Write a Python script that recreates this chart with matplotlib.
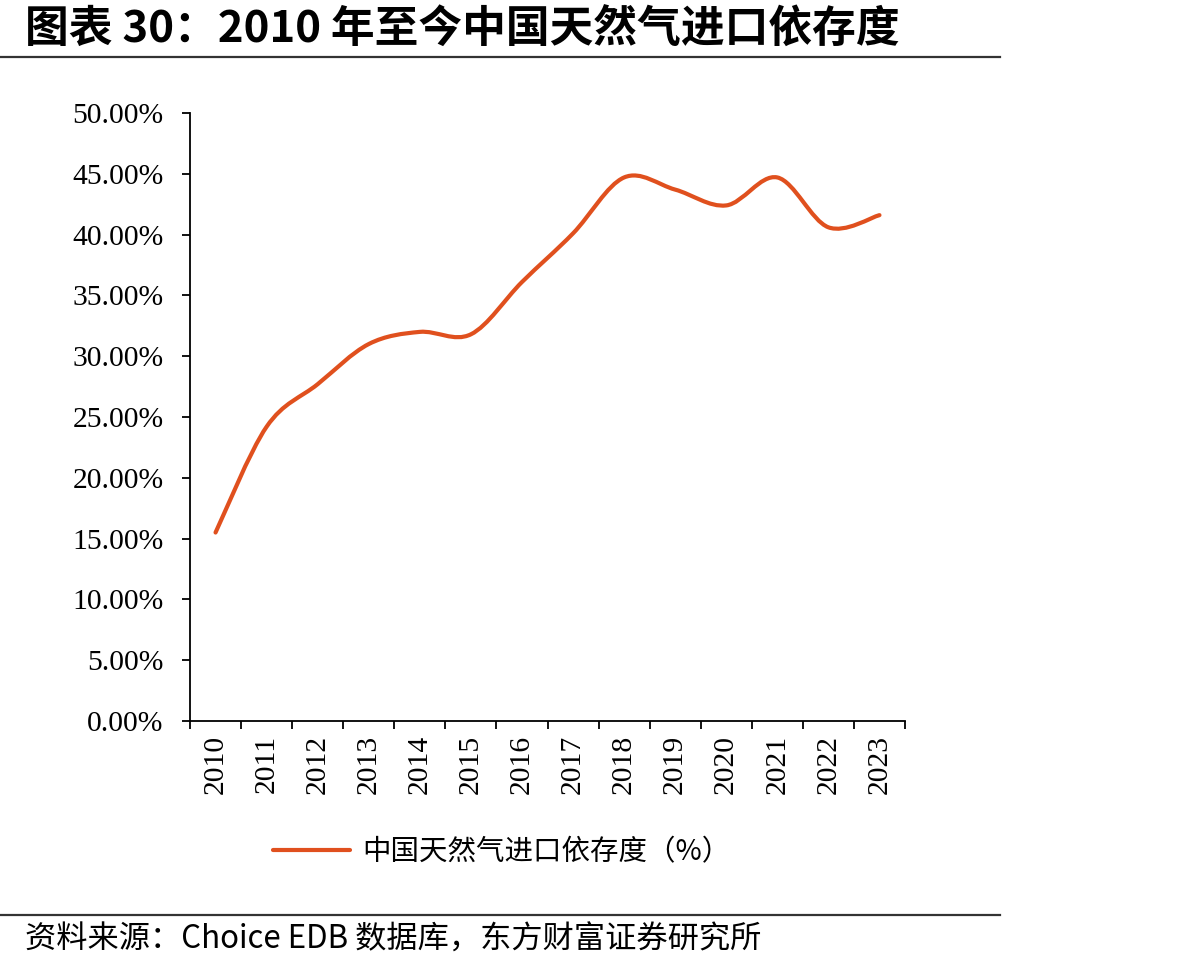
import matplotlib
matplotlib.use("Agg")
import matplotlib.pyplot as plt
from matplotlib.path import Path
from matplotlib.patches import PathPatch
from matplotlib.lines import Line2D
from matplotlib.ticker import FixedLocator, PercentFormatter

# ---- data ----
years = ["2010", "2011", "2012", "2013", "2014", "2015", "2016",
         "2017", "2018", "2019", "2020", "2021", "2022", "2023"]
dependency = [15.5, 24.2, 27.7, 31.0, 32.0, 31.8, 36.1,
              40.1, 44.7, 43.7, 42.4, 44.7, 40.6, 41.6]
series_label = "中国天然气进口依存度（%）"
title_text = "图表 30：2010 年至今中国天然气进口依存度"
source_text = "资料来源：Choice EDB 数据库，东方财富证券研究所"
yticks = [0, 5, 10, 15, 20, 25, 30, 35, 40, 45, 50]

LINE_COLOR = "#E0501E"
CJK = ["Noto Sans CJK SC", "DejaVu Sans"]
SERIF = ["Liberation Serif", "Noto Sans CJK SC"]

fig = plt.figure(figsize=(11.93, 9.69), dpi=100)
ax = fig.add_axes([190/1193, 1-721/969, (905-190)/1193, (721-113)/969])

# smooth (Excel-style Catmull-Rom) curve built as Bezier path through the data
xs = list(range(len(years)))
pts = list(zip(xs, dependency))
verts = [pts[0]]
codes = [Path.MOVETO]
n = len(pts)
for i in range(n - 1):
    p0 = pts[i - 1] if i > 0 else pts[i]
    p1 = pts[i]
    p2 = pts[i + 1]
    p3 = pts[i + 2] if i + 2 < n else pts[i + 1]
    c1 = (p1[0] + (p2[0] - p0[0]) / 6, p1[1] + (p2[1] - p0[1]) / 6)
    c2 = (p2[0] - (p3[0] - p1[0]) / 6, p2[1] - (p3[1] - p1[1]) / 6)
    verts += [c1, c2, p2]
    codes += [Path.CURVE4] * 3
patch = PathPatch(Path(verts, codes), fill=False, edgecolor=LINE_COLOR,
                  lw=3.0, capstyle="round", joinstyle="round")
ax.add_patch(patch)

ax.set_xlim(-0.5, len(years) - 0.5)
ax.set_ylim(0, 50)

# y axis
ax.yaxis.set_major_locator(FixedLocator(yticks))
ax.yaxis.set_major_formatter(PercentFormatter(decimals=2))
ax.tick_params(axis="y", which="major", direction="out", length=6, width=1.3,
               pad=13, labelsize=21.3)

# x axis: ticks at category boundaries, labels at centers
ax.set_xticks([i - 0.5 for i in range(len(years) + 1)])
ax.set_xticklabels([])
ax.set_xticks(xs, minor=True)
ax.set_xticklabels(years, minor=True, rotation=90)
ax.tick_params(axis="x", which="major", direction="out", length=6, width=1.3)
ax.tick_params(axis="x", which="minor", length=0, pad=10, labelsize=21.3)

for lab in ax.get_yticklabels() + ax.get_xticklabels(minor=True):
    lab.set_fontfamily(SERIF)

for s in ["top", "right"]:
    ax.spines[s].set_visible(False)
for s in ["left", "bottom"]:
    ax.spines[s].set_linewidth(1.3)
    ax.spines[s].set_color("black")

# legend
handle = Line2D([], [], color=LINE_COLOR, lw=3.0, solid_capstyle="round")
leg = fig.legend([handle], [series_label], loc="center",
                 bbox_to_anchor=(502/1193, 1-852/969), frameon=False,
                 handlelength=2.7, handletextpad=0.45,
                 prop={"family": CJK, "size": 20.5})

# title and source
fig.text(25/1193, 1-30/969, title_text, fontsize=31.5, fontweight="bold",
         family=CJK, ha="left", va="center")
fig.add_artist(Line2D([0, 1000/1193], [1-57/969, 1-57/969], color="#333333", lw=1.6,
                      transform=fig.transFigure))
fig.add_artist(Line2D([0, 1000/1193], [1-915/969, 1-915/969], color="#333333", lw=1.6,
                      transform=fig.transFigure))
fig.text(25/1193, 1-940/969, source_text, fontsize=22.5, family=CJK,
         ha="left", va="center")

fig.savefig("out.png", dpi=100, facecolor="white")
